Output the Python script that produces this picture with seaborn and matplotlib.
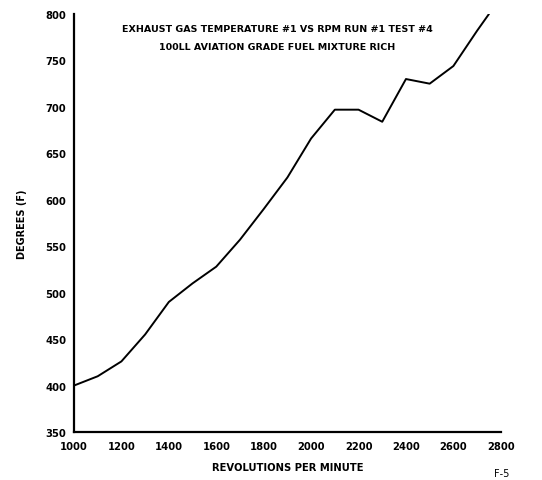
import matplotlib.pyplot as plt
import pandas as pd
import seaborn as sns

rpm = [1000, 1100, 1200, 1300, 1400, 1500, 1600, 1700, 1800, 1900,
       2000, 2100, 2200, 2300, 2400, 2500, 2600, 2700, 2750]
egt = [400, 410, 426, 455, 490, 510, 528, 557, 590, 624,
       666, 697, 697, 684, 730, 725, 744, 782, 800]
x_ticks = [1000, 1200, 1400, 1600, 1800, 2000, 2200, 2400, 2600, 2800]
y_ticks = [350, 400, 450, 500, 550, 600, 650, 700, 750, 800]

sns.set_style("white")
plt.rcParams["font.family"] = ["DejaVu Sans"]
plt.rcParams["text.color"] = "black"
plt.rcParams["axes.labelcolor"] = "black"
plt.rcParams["xtick.color"] = "black"
plt.rcParams["ytick.color"] = "black"

df = pd.DataFrame({"rpm": rpm, "egt": egt})

fig = plt.figure(figsize=(5.42, 4.81), dpi=100)
ax = fig.add_axes([0.1365, 0.0998, 0.7875, 0.869])
sns.lineplot(data=df, x="rpm", y="egt", color="black", linewidth=1.4, ax=ax)

ax.set_xlim(1000, 2800)
ax.set_ylim(350, 800)
ax.set_xticks(x_ticks)
ax.set_yticks(y_ticks)
ax.tick_params(axis="both", direction="inout", length=5, width=1.2, labelsize=7.2)
for lbl in ax.get_xticklabels() + ax.get_yticklabels():
    lbl.set_fontweight("bold")
ax.tick_params(axis="x", pad=4)
ax.tick_params(axis="y", pad=3)

sns.despine(ax=ax)
for side in ["left", "bottom"]:
    ax.spines[side].set_linewidth(1.6)
    ax.spines[side].set_color("black")

ax.set_xlabel("REVOLUTIONS PER MINUTE", fontsize=7.2, fontweight="bold", labelpad=8)
ax.set_ylabel("DEGREES (F)", fontsize=7, fontweight="bold", labelpad=13)

fig.text(0.511, 0.939, "EXHAUST GAS TEMPERATURE #1 VS RPM RUN #1 TEST #4",
         ha="center", va="center", fontsize=6.8, fontweight="bold")
fig.text(0.511, 0.902, "100LL AVIATION GRADE FUEL MIXTURE RICH",
         ha="center", va="center", fontsize=6.8, fontweight="bold")
fig.text(0.925, 0.015, "F-5", ha="center", va="center", fontsize=7)

fig.savefig("out.png", dpi=100)
